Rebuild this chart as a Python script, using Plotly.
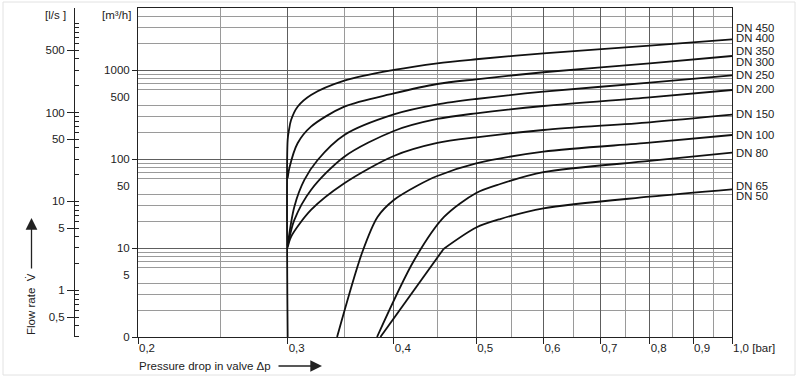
import math
import plotly.graph_objects as go

# ---------------- data ----------------
# pressure drop in valve Δp [bar]  /  flow rate V̇ [m³/h]
dp_dn450 = [0.300, 0.300, 0.3011, 0.3028, 0.3082, 0.3196, 0.3498, 0.400, 0.450, 0.500, 0.600, 0.800, 1.000]
q_dn450 = [1, 164, 213, 275, 388, 526, 762, 1005, 1195, 1326, 1548, 1885, 2225]

dp_dn350 = [0.300, 0.3014, 0.3082, 0.3196, 0.3498, 0.400, 0.450, 0.500, 0.600, 0.800, 1.000]
q_dn350 = [61.3, 79.5, 150.6, 231.5, 388.5, 547, 699, 790, 947, 1195, 1443]

dp_dn250 = [0.300, 0.3055, 0.3139, 0.3254, 0.3498, 0.400, 0.450, 0.500, 0.600, 0.800, 1.000]
q_dn250 = [10.8, 29.2, 58.3, 97.7, 186.7, 317.6, 411.4, 474.2, 572.8, 723.2, 876.1]

dp_dn200 = [0.300, 0.3055, 0.3196, 0.3498, 0.400, 0.450, 0.500, 0.600, 0.800, 1.000]
q_dn200 = [10.5, 20.7, 45.0, 106.5, 207.2, 282.6, 327.6, 395.7, 495.6, 598.7]

dp_dn150 = [0.300, 0.3028, 0.3196, 0.3498, 0.400, 0.450, 0.500, 0.600, 0.800, 1.000]
q_dn150 = [10.1, 13.4, 26.8, 53.5, 108.4, 151.8, 176.0, 212.6, 259.4, 315.9]

dp_dn100 = [0.3430, 0.3673, 0.3829, 0.400, 0.4266, 0.450, 0.500, 0.600, 0.800, 1.000]
q_dn100 = [1, 9.03, 22.5, 34.7, 50.5, 64.6, 89.3, 121.2, 152.9, 186.7]

dp_dn80 = [0.3822, 0.4228, 0.4586, 0.500, 0.5337, 0.600, 0.800, 1.000]
q_dn80 = [1, 7.34, 22.5, 41.6, 52.5, 71.3, 95.3, 118.1]

dp_dn65 = [0.3857, 0.4577, 0.500, 0.5337, 0.600, 0.800, 1.000]
q_dn65 = [1, 9.76, 17.0, 21.2, 28.0, 37.8, 45.8]
dn65_kink_index = 1  # straight rise up to here, curved afterwards

curve_labels = [
    ["DN 450", "DN 400"],
    ["DN 350", "DN 300"],
    ["DN 250"],
    ["DN 200"],
    ["DN 150"],
    ["DN 100"],
    ["DN 80"],
    ["DN 65", "DN 50"],
]

x_tick_vals = [0.2, 0.3, 0.4, 0.5, 0.6, 0.7, 0.8, 0.9, 1.0]
x_tick_text = ["0,2", "0,3", "0,4", "0,5", "0,6", "0,7", "0,8", "0,9", "1,0 [bar]"]
x_minor_vals = [0.25, 0.35, 0.45, 0.55, 0.65, 0.75, 0.85, 0.95]

y_decade_vals = [1, 10, 100, 1000]
y_decade_text = ["0", "10", "100", "1000"]
y_half_vals = [5, 50, 500]
y_half_text = ["5", "50", "500"]
y_minor_vals = [2, 3, 4, 6, 7, 8, 9, 20, 30, 40, 60, 70, 80, 90,
                200, 300, 400, 600, 700, 800, 900, 2000, 3000, 4000, 5000]
y_max = 5000

ls_tick_vals = [0.5, 1, 5, 10, 50, 100, 500]
ls_tick_text = ["0,5", "1", "5", "10", "50", "100", "500"]
ls_minor_vals = [0.3, 0.4, 0.5, 0.6, 0.7, 0.8, 0.9, 1, 2, 3, 4, 5, 6, 7, 8, 9, 10,
                 20, 30, 40, 50, 60, 70, 80, 90, 100, 200, 300, 400, 500, 600, 700, 800, 900, 1000]

# ---------------- layout geometry ----------------
W, H = 800, 379
ML, MR, MT, MB = 40, 68, 8, 42
PW, PH = W - ML - MR, H - MT - MB
X_DOM0 = (138 - ML) / PW


def px(xp):
    return (xp - ML) / PW


def py(yp):
    return (H - MB - yp) / PH


FONT = "Liberation Sans, Arial, Helvetica, sans-serif"
TXT = "#222222"
GRID_MAJ = "#5e5e5e"
GRID_MIN = "#9a9a9a"
CURVE = dict(color="#111111", width=1.8)

fig = go.Figure()

series = [
    (dp_dn450, q_dn450), (dp_dn350, q_dn350), (dp_dn250, q_dn250), (dp_dn200, q_dn200),
    (dp_dn150, q_dn150), (dp_dn100, q_dn100), (dp_dn80, q_dn80),
]
for (xs, ys), labels in zip(series, curve_labels[:-1]):
    fig.add_trace(go.Scatter(
        x=xs, y=ys, mode="lines", name=" / ".join(labels),
        line=dict(**CURVE, shape="spline", smoothing=0.85),
        showlegend=False, hoverinfo="x+y+name",
    ))

# DN 65 / DN 50: straight rise with a kink, then a smooth curve
k = dn65_kink_index
fig.add_trace(go.Scatter(x=dp_dn65[:k + 1], y=q_dn65[:k + 1], mode="lines",
                         name="DN 65 / DN 50", line=dict(**CURVE, shape="linear"),
                         showlegend=False, hoverinfo="x+y+name"))
fig.add_trace(go.Scatter(x=dp_dn65[k:], y=q_dn65[k:], mode="lines",
                         name="DN 65 / DN 50", line=dict(**CURVE, shape="spline", smoothing=0.85),
                         showlegend=False, hoverinfo="x+y+name"))
series.append((dp_dn65, q_dn65))

# helper traces so the extra axes are created
fig.add_trace(go.Scatter(x=[0.5], y=[1], yaxis="y2", mode="markers",
                         marker=dict(opacity=0), hoverinfo="skip", showlegend=False))
fig.add_trace(go.Scatter(x=[0.5], y=[1], yaxis="y3", mode="markers",
                         marker=dict(opacity=0), hoverinfo="skip", showlegend=False))

# label offsets (pixels) relative to curve end
label_shift = [[11.6, 1.6], [5, -5.7], [0.3], [0.7], [0.4], [0], [0], [3.6, -6.4]]
annotations = []
for (xs, ys), labels, shifts in zip(series, curve_labels, label_shift):
    for lab, s in zip(labels, shifts):
        annotations.append(dict(
            x=1, xref="paper", y=math.log10(ys[-1]), yref="y",
            text=lab, showarrow=False, xanchor="left", yanchor="middle",
            xshift=2, yshift=s, font=dict(size=11.3, color=TXT, family=FONT),
        ))

# unit headers
annotations.append(dict(x=px(55), y=py(15), xref="paper", yref="paper", text="[l/s ]",
                        showarrow=False, xanchor="center", yanchor="middle",
                        font=dict(size=11.5, color=TXT, family=FONT)))
annotations.append(dict(x=px(116), y=py(15), xref="paper", yref="paper", text="[m³/h]",
                        showarrow=False, xanchor="center", yanchor="middle",
                        font=dict(size=11.5, color=TXT, family=FONT)))
# y title
annotations.append(dict(x=px(31), y=py(304), xref="paper", yref="paper", text="Flow rate  V̇",
                        showarrow=False, textangle=-90, xanchor="center", yanchor="middle",
                        font=dict(size=11.5, color=TXT, family=FONT)))
annotations.append(dict(x=px(31.5), y=py(218), xref="paper", yref="paper", text="",
                        showarrow=True, ax=0, ay=52, arrowhead=2, arrowsize=1.8,
                        arrowwidth=1.3, arrowcolor=TXT))
# x title
annotations.append(dict(x=px(137), y=py(366), xref="paper", yref="paper",
                        text="Pressure drop in valve Δp", showarrow=False,
                        xanchor="left", yanchor="middle",
                        font=dict(size=11.5, color=TXT, family=FONT)))
annotations.append(dict(x=px(322), y=py(366), xref="paper", yref="paper", text="",
                        showarrow=True, ax=-45, ay=0, arrowhead=2, arrowsize=1.8,
                        arrowwidth=1.3, arrowcolor=TXT))

shapes = [dict(type="rect", xref="paper", yref="paper",
               x0=px(3), x1=px(795), y0=py(375), y1=py(2),
               line=dict(color="#e2e2e2", width=1), fillcolor="rgba(0,0,0,0)", layer="below")]

fig.update_layout(
    width=W, height=H,
    margin=dict(l=ML, r=MR, t=MT, b=MB, pad=0),
    paper_bgcolor="white", plot_bgcolor="white",
    font=dict(family=FONT, size=11.5, color=TXT),
    showlegend=False,
    annotations=annotations,
    shapes=shapes,
    xaxis=dict(
        type="log", domain=[X_DOM0, 1], range=[math.log10(x_tick_vals[0]), math.log10(x_tick_vals[-1])],
        tickmode="array", tickvals=x_tick_vals, ticktext=x_tick_text,
        ticks="outside", ticklen=6, tickcolor=TXT, tickwidth=1,
        ticklabelposition="outside right",
        showgrid=True, gridcolor=GRID_MAJ, gridwidth=1,
        minor=dict(tickmode="array", tickvals=x_minor_vals, showgrid=True,
                   gridcolor=GRID_MIN, gridwidth=1, ticks=""),
        showline=True, mirror=True, linecolor=TXT, linewidth=1,
        zeroline=False, fixedrange=True,
    ),
    yaxis=dict(
        type="log", range=[0, math.log10(y_max)],
        tickmode="array", tickvals=y_decade_vals, ticktext=y_decade_text,
        ticks="outside", ticklen=5, tickcolor=TXT, tickwidth=1,
        showgrid=True, gridcolor=GRID_MAJ, gridwidth=1,
        minor=dict(tickmode="array", tickvals=y_minor_vals, showgrid=True,
                   gridcolor=GRID_MIN, gridwidth=1, ticks=""),
        showline=True, mirror=True, linecolor=TXT, linewidth=1,
        zeroline=False, fixedrange=True,
    ),
    yaxis3=dict(
        type="log", range=[0, math.log10(y_max)], overlaying="y", anchor="x", side="left",
        tickmode="array", tickvals=y_half_vals, ticktext=y_half_text,
        ticks="outside", ticklen=5, tickcolor="rgba(0,0,0,0)",
        showgrid=False, showline=False, zeroline=False, fixedrange=True,
    ),
    yaxis2=dict(
        type="log", range=[-0.524, 3.175], overlaying="y", anchor="free",
        position=px(74), side="left",
        tickmode="array", tickvals=ls_tick_vals, ticktext=ls_tick_text,
        ticks="outside", ticklen=7, tickcolor=TXT, tickwidth=1,
        minor=dict(tickmode="array", tickvals=ls_minor_vals, ticks="inside",
                   ticklen=4, tickcolor=TXT, showgrid=False),
        showgrid=False, showline=True, linecolor=TXT, linewidth=1,
        zeroline=False, fixedrange=True,
    ),
)

fig.write_html("out.html", config={"displayModeBar": False},
               post_script="document.body.style.margin='0px';document.body.style.overflow='hidden';")
